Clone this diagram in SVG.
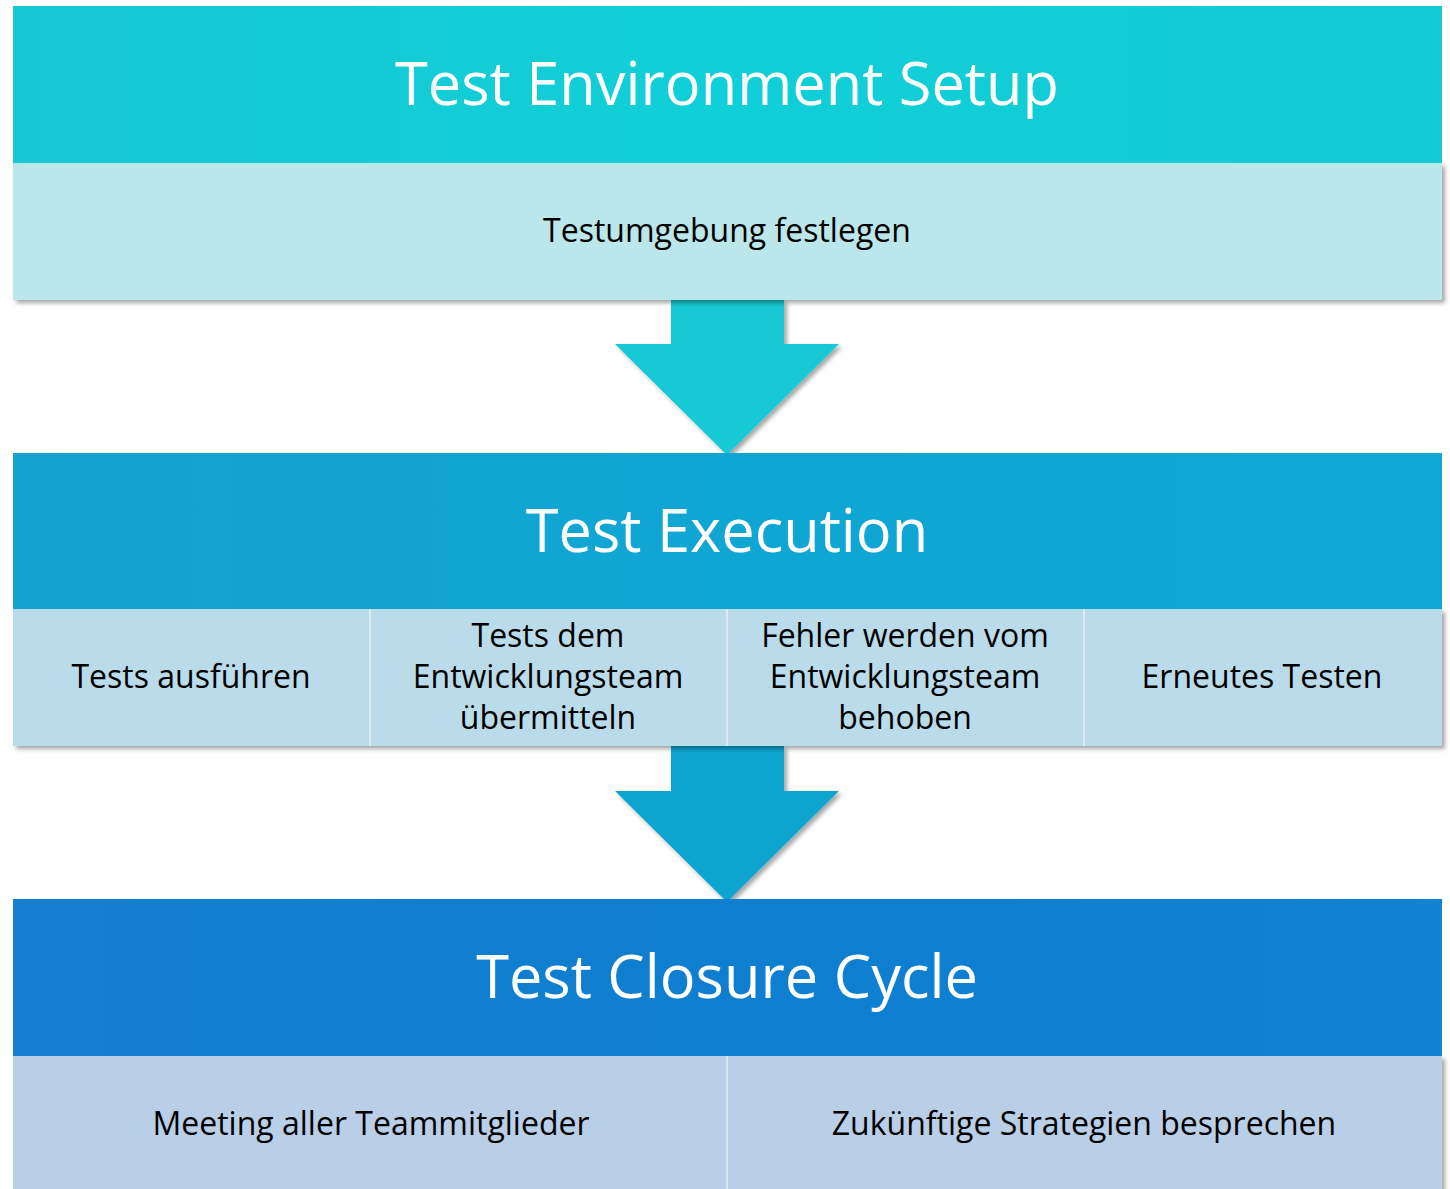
<svg xmlns="http://www.w3.org/2000/svg" width="1450" height="1189" viewBox="0 0 1450 1189">
<defs>
<filter id="sh" x="-5%" y="-10%" width="110%" height="130%">
<feDropShadow dx="3" dy="3" stdDeviation="2" flood-color="#000" flood-opacity="0.35"/>
</filter>
<linearGradient id="g1" x1="0" y1="0" x2="1" y2="0"><stop offset="0" stop-color="#17C8D3"/><stop offset="0.5" stop-color="#10CFD8"/><stop offset="1" stop-color="#14CAD4"/></linearGradient>
<linearGradient id="g2" x1="0" y1="0" x2="1" y2="0"><stop offset="0" stop-color="#14A3D0"/><stop offset="0.5" stop-color="#10A6D3"/><stop offset="1" stop-color="#12A8D5"/></linearGradient>
<linearGradient id="g3" x1="0" y1="0" x2="1" y2="0"><stop offset="0" stop-color="#1580CF"/><stop offset="0.5" stop-color="#0E7ED0"/><stop offset="1" stop-color="#1183D3"/></linearGradient>
</defs>
<style>
.t{font-family:"Open Sans","Noto Sans",sans-serif;fill:#fff;font-size:59.5px;text-anchor:middle}
.s{font-family:"Open Sans","Noto Sans",sans-serif;fill:#000;font-size:32px;text-anchor:middle}
.sep{stroke:#ffffff;stroke-opacity:0.45;stroke-width:2}
</style>
<rect width="1450" height="1189" fill="#fff"/>
<g id="connectors">
<polygon points="671,300 784,300 784,344 839,344 727,455 615,344 671,344" fill="#12C9D4" filter="url(#sh)"/>
<polygon points="671,746 784,746 784,791 839,791 727,902 615,791 671,791" fill="#11A4D0" filter="url(#sh)"/>
</g>
<g id="setup">
<rect x="13" y="163" width="1429" height="137" fill="#BBE7EA" filter="url(#sh)"/>
<rect x="13" y="6" width="1429" height="157" fill="url(#g1)"/>
<text class="t" x="727" y="105">Test Environment Setup</text>
<text class="s" x="727" y="242">Testumgebung festlegen</text>
</g>
<g id="execution">
<rect x="13" y="609" width="1429" height="137" fill="#BADCEA" filter="url(#sh)"/>
<line class="sep" x1="370" y1="609" x2="370" y2="746"/>
<line class="sep" x1="727" y1="609" x2="727" y2="746"/>
<line class="sep" x1="1084" y1="609" x2="1084" y2="746"/>
<rect x="13" y="453" width="1429" height="156" fill="url(#g2)"/>
<text class="t" x="727" y="552">Test Execution</text>
<text class="s" x="191" y="688">Tests ausführen</text>
<text class="s" x="548" y="647">Tests dem</text>
<text class="s" x="548" y="688">Entwicklungsteam</text>
<text class="s" x="548" y="729">übermitteln</text>
<text class="s" x="905" y="647">Fehler werden vom</text>
<text class="s" x="905" y="688">Entwicklungsteam</text>
<text class="s" x="905" y="729">behoben</text>
<text class="s" x="1262" y="688">Erneutes Testen</text>
</g>
<g id="closure">
<rect x="13" y="1056" width="1429" height="140" fill="#B9CFE8" filter="url(#sh)"/>
<line class="sep" x1="727" y1="1056" x2="727" y2="1189"/>
<rect x="13" y="899" width="1429" height="157" fill="url(#g3)"/>
<text class="t" x="727" y="998">Test Closure Cycle</text>
<text class="s" x="371" y="1135">Meeting aller Teammitglieder</text>
<text class="s" x="1084" y="1135">Zukünftige Strategien besprechen</text>
</g>
</svg>
